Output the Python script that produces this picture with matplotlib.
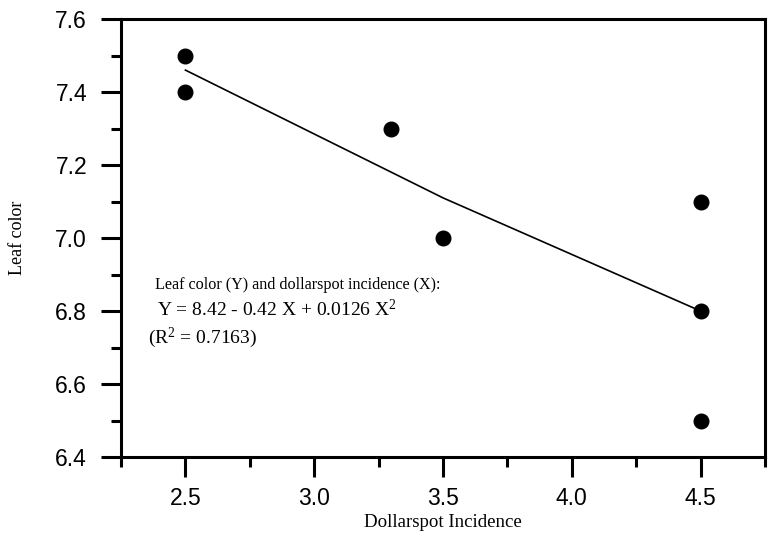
# Leaf color vs. dollarspot incidence, with the quadratic fit drawn through it.

import matplotlib
matplotlib.use("Agg")
import matplotlib.pyplot as plt
from matplotlib.ticker import MultipleLocator

plt.rcParams["mathtext.fontset"] = "custom"
plt.rcParams["mathtext.rm"] = "Liberation Serif"
plt.rcParams["mathtext.it"] = "Liberation Serif:italic"

# observed points
incidence = [2.5, 2.5, 3.3, 3.5, 4.5, 4.5, 4.5]
leaf_color = [7.5, 7.4, 7.3, 7.0, 7.1, 6.8, 6.5]

# fitted curve
fit_x = [2.5, 3.3, 3.5, 4.5]
fit_y = [7.46, 7.18, 7.11, 6.80]

eq_lines = [
    "Leaf color (Y) and dollarspot incidence (X):",
    "Y = 8.42 - 0.42 X + 0.0126 X$^2$",
    "(R$^2$ = 0.7163)",
]

SERIF = "Liberation Serif"
SANS = "Liberation Sans"

fig = plt.figure(figsize=(7.68, 5.4), dpi=100)
ax = fig.add_axes([0.1576, 0.1537, 0.9960 - 0.1576, 0.9648 - 0.1537])

ax.plot(fit_x, fit_y, color="black", lw=1.2, zorder=2)
ax.plot(incidence, leaf_color, "o", color="black", ms=10.5, zorder=3)

ax.set_xlim(2.25, 4.75)
ax.set_ylim(6.4, 7.6)
ax.xaxis.set_major_locator(MultipleLocator(0.5))
ax.xaxis.set_minor_locator(MultipleLocator(0.25))
ax.yaxis.set_major_locator(MultipleLocator(0.2))
ax.yaxis.set_minor_locator(MultipleLocator(0.1))
ax.xaxis.set_major_formatter(matplotlib.ticker.FormatStrFormatter("%.1f"))
ax.yaxis.set_major_formatter(matplotlib.ticker.FormatStrFormatter("%.1f"))

for sp in ax.spines.values():
    sp.set_linewidth(2.2)
ax.tick_params(which="both", direction="out", width=2.2, top=False, right=False)
ax.tick_params(which="major", length=14.5, labelsize=16.5)
ax.tick_params(axis="x", which="major", pad=7)
ax.tick_params(axis="y", which="major", pad=10)
ax.tick_params(which="minor", length=7.5)
for lab in ax.get_xticklabels() + ax.get_yticklabels():
    lab.set_fontfamily(SANS)

ax.set_xlabel("Dollarspot Incidence", family=SERIF, fontsize=13.6, labelpad=3)
ax.set_ylabel("Leaf color", family=SERIF, fontsize=13, labelpad=21)

ax.text(2.383, 6.86, eq_lines[0], family=SERIF, fontsize=11.6, va="baseline")
ax.text(2.39, 6.786, eq_lines[1], family=SERIF, fontsize=14, va="baseline")
ax.text(2.356, 6.711, eq_lines[2], family=SERIF, fontsize=14, va="baseline")

fig.savefig("out.png", dpi=100)
